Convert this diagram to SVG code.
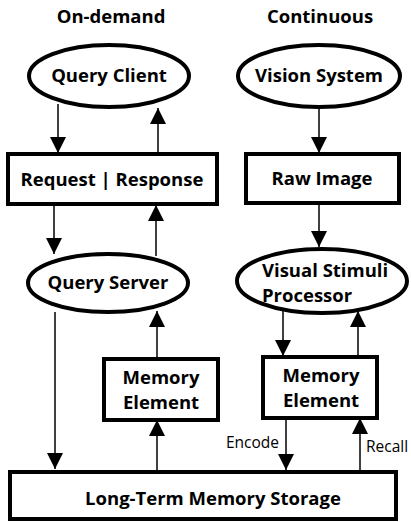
<svg xmlns="http://www.w3.org/2000/svg" width="411" height="522" viewBox="0 0 411 522">
<style>
.n{fill:#fff;stroke:#000;stroke-width:4}
.t{font-family:"Open Sans","Liberation Sans",sans-serif;font-weight:bold;font-size:18.5px;text-anchor:middle;fill:#000}
.s{text-anchor:start}
.l{font-family:"Open Sans","Liberation Sans",sans-serif;font-size:15.5px;fill:#000}
.e{text-anchor:end}
.c line{stroke:#000;stroke-width:1.5}
</style>
<defs>
<marker id="ah" markerUnits="userSpaceOnUse" markerWidth="16" markerHeight="16" viewBox="0 0 14 14" refX="14" refY="7" orient="auto">
<path d="M0,0 L14,7 L0,14 Z" fill="#000"/>
</marker>
</defs>
<rect width="411" height="522" fill="#fff"/>
<text class="t" x="111" y="23">On-demand</text>
<text class="t" x="320" y="23">Continuous</text>
<g class="c">
<line x1="58" y1="104" x2="58" y2="153" marker-end="url(#ah)"/>
<line x1="158" y1="153" x2="158" y2="108" marker-end="url(#ah)"/>
<line x1="319" y1="108" x2="319" y2="153" marker-end="url(#ah)"/>
<line x1="54" y1="205" x2="54" y2="254" marker-end="url(#ah)"/>
<line x1="156" y1="256" x2="156" y2="205" marker-end="url(#ah)"/>
<line x1="319" y1="203" x2="319" y2="247" marker-end="url(#ah)"/>
<line x1="55" y1="312" x2="55" y2="469" marker-end="url(#ah)"/>
<line x1="157" y1="358" x2="157" y2="311" marker-end="url(#ah)"/>
<line x1="157" y1="471" x2="157" y2="420" marker-end="url(#ah)"/>
<line x1="283" y1="311" x2="283" y2="356" marker-end="url(#ah)"/>
<line x1="358" y1="356" x2="358" y2="311" marker-end="url(#ah)"/>
<line x1="286" y1="419" x2="286" y2="470" marker-end="url(#ah)"/>
<line x1="360" y1="471" x2="360" y2="418" marker-end="url(#ah)"/>
<text class="l e" x="279" y="448">Encode</text>
<text class="l" x="366" y="452">Recall</text>
</g>
<g id="query-client"><ellipse class="n" cx="109" cy="76" rx="80" ry="31"/><text class="t" x="109" y="82">Query Client</text></g>
<g id="vision-system"><ellipse class="n" cx="319" cy="76" rx="81" ry="31"/><text class="t" x="319" y="82">Vision System</text></g>
<g id="request-response"><rect class="n" x="8" y="154" width="209" height="50"/><text class="t" x="112" y="186">Request | Response</text></g>
<g id="raw-image"><rect class="n" x="246" y="154" width="153" height="49"/><text class="t" x="322" y="185">Raw Image</text></g>
<g id="query-server"><ellipse class="n" cx="108" cy="283" rx="80" ry="29"/><text class="t" x="108" y="289">Query Server</text></g>
<g id="visual-stimuli"><ellipse class="n" cx="322" cy="281" rx="85" ry="32"/><text class="t s" x="262" y="277">Visual Stimuli</text><text class="t s" x="262" y="302">Processor</text></g>
<g id="memory-element-left"><rect class="n" x="104" y="359" width="114" height="61"/><text class="t" x="161" y="384">Memory</text><text class="t" x="161" y="409">Element</text></g>
<g id="memory-element-right"><rect class="n" x="263" y="357" width="114" height="61"/><text class="t" x="321" y="382">Memory</text><text class="t" x="321" y="407">Element</text></g>
<g id="ltm"><rect class="n" x="10" y="472" width="386" height="47"/><text class="t" x="213" y="505">Long-Term Memory Storage</text></g>
</svg>
